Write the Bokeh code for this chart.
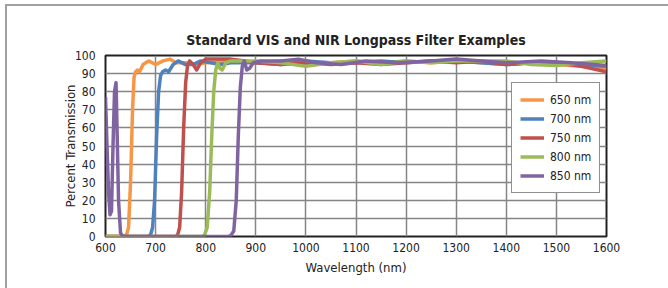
from bokeh.plotting import figure
from bokeh.models import Legend, LegendItem, FixedTicker, Range1d
from bokeh.embed import file_html
from bokeh.resources import INLINE

FONT = "DejaVu Sans Condensed"

x_ticks = [600, 700, 800, 900, 1000, 1100, 1200, 1300, 1400, 1500, 1600]
y_ticks = [0, 10, 20, 30, 40, 50, 60, 70, 80, 90, 100]

wl_650 = [600, 635, 642, 646, 650, 654, 657, 660, 664, 668, 675, 686, 700, 715, 729, 740, 760, 780, 800,
          850, 900, 950, 1000, 1050, 1100, 1150, 1200, 1250, 1300, 1350, 1400, 1450, 1500, 1550, 1600]
t_650 = [0, 0, 1, 5, 30, 70, 88, 91, 92, 91, 95, 97, 95, 97, 98, 96, 96, 95, 96,
         97, 96, 97, 96, 96, 97, 96, 97, 96, 97, 96, 95, 96, 95, 94, 93]

wl_700 = [600, 685, 690, 694, 698, 702, 706, 710, 714, 720, 726, 735, 745, 760, 775, 790, 810, 830, 850,
          900, 950, 1000, 1050, 1100, 1150, 1200, 1250, 1300, 1350, 1400, 1450, 1500, 1550, 1600]
t_700 = [0, 0, 1, 5, 20, 55, 80, 89, 91, 92, 91, 95, 97, 95, 95, 97, 96, 95, 96,
         96, 95, 97, 96, 96, 97, 96, 97, 97, 96, 95, 96, 96, 95, 94]

wl_750 = [600, 740, 744, 748, 752, 756, 760, 764, 768, 775, 782, 790, 800, 820, 850, 880,
          900, 950, 1000, 1050, 1100, 1150, 1200, 1250, 1300, 1350, 1400, 1450, 1500, 1550, 1600]
t_750 = [0, 0, 1, 5, 25, 60, 85, 95, 97, 95, 92, 96, 98, 98, 98, 97,
         96, 95, 96, 95, 96, 95, 96, 97, 96, 97, 95, 96, 96, 94, 91]

wl_800 = [600, 794, 798, 803, 808, 812, 816, 820, 824, 828, 833, 840, 850, 870,
          900, 950, 1000, 1050, 1100, 1150, 1200, 1250, 1300, 1350, 1400, 1450, 1500, 1550, 1600]
t_800 = [0, 0, 1, 5, 25, 55, 80, 92, 96, 93, 92, 96, 97, 97,
         97, 96, 94, 96, 97, 95, 97, 96, 97, 97, 97, 95, 94.5, 96, 97]

wl_850 = [600, 603, 606, 609, 612, 615, 618, 621, 623, 626, 630, 635, 845, 850, 856, 861, 865, 869,
          873, 877, 882, 888, 895, 910, 950, 985, 1020, 1070, 1120, 1180, 1250, 1300, 1350, 1400,
          1470, 1530, 1600]
t_850 = [77, 50, 25, 12, 14, 50, 80, 85, 60, 20, 2, 0, 0, 0.5, 3, 20, 55, 82,
         94, 97, 92, 93, 96, 97, 97, 98, 96, 95, 97, 96, 97, 98, 97, 96,
         97, 96, 94.5]

series = [
    ("650 nm", wl_650, t_650, "#F79646"),
    ("700 nm", wl_700, t_700, "#4F81BD"),
    ("750 nm", wl_750, t_750, "#C0504D"),
    ("800 nm", wl_800, t_800, "#9BBB59"),
    ("850 nm", wl_850, t_850, "#8064A2"),
]

p = figure(width=668, height=288, output_backend="svg", toolbar_location=None,
           x_range=Range1d(600, 1600), y_range=Range1d(0, 100),
           min_border_left=105, min_border_right=62, min_border_top=55, min_border_bottom=52,
           title="Standard VIS and NIR Longpass Filter Examples")

p.border_fill_alpha = 0
p.background_fill_color = "white"

p.title.align = "center"
p.title.text_font = FONT
p.title.text_font_size = "14px"
p.title.text_font_style = "bold"
p.title.text_color = "#222222"
p.title.standoff = 15

p.outline_line_color = "#222222"
p.outline_line_width = 2

for ax in (p.xaxis[0], p.yaxis[0]):
    ax.axis_line_color = None
    ax.major_tick_line_color = None
    ax.minor_tick_line_color = None
    ax.major_label_text_font = FONT
    ax.major_label_text_font_size = "12px"
    ax.major_label_text_color = "#222222"
    ax.axis_label_text_font = FONT
    ax.axis_label_text_font_size = "13px"
    ax.axis_label_text_font_style = "normal"
    ax.axis_label_text_color = "#222222"

p.xaxis.ticker = FixedTicker(ticks=x_ticks)
p.yaxis.ticker = FixedTicker(ticks=y_ticks)
p.xaxis.axis_label = "Wavelength (nm)"
p.yaxis.axis_label = "Percent Transmission"
p.xaxis.major_label_standoff = 0
p.yaxis.major_label_standoff = 4
p.xaxis.axis_label_standoff = 5
p.yaxis.axis_label_standoff = -6

p.xgrid.grid_line_color = "#858585"
p.ygrid.grid_line_color = "#858585"
p.xgrid.grid_line_width = 1.5
p.ygrid.grid_line_width = 1.5

items = []
for name, xs, ys, col in series:
    r = p.line(xs, ys, line_color=col, line_width=3.5, line_join="round")
    items.append(LegendItem(label=name, renderers=[r]))

legend = Legend(items=items, location=(406, 43))
legend.label_text_font = FONT
legend.label_text_font_size = "12px"
legend.label_text_color = "#222222"
legend.border_line_color = "#222222"
legend.border_line_width = 1.5
legend.background_fill_color = "white"
legend.background_fill_alpha = 1
legend.glyph_width = 24
legend.glyph_height = 17
legend.label_height = 17
legend.spacing = 2
legend.padding = 8
legend.margin = 0
legend.label_standoff = 6
p.add_layout(legend, "center")

p.styles = {"box-shadow": "inset 5px 4px 0 0 #ffffff, inset 7px 6px 0 0 #a0a0a0",
            "background-color": "white"}

open("out.html", "w").write(file_html(p, INLINE))
